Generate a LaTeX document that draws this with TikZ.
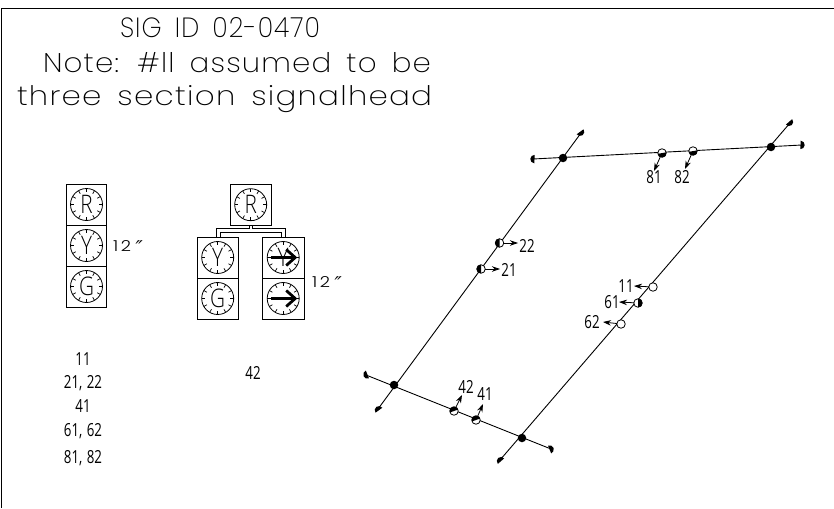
\documentclass[tikz,border=0pt]{standalone}
\usepackage{fontspec}
\setmainfont{Open Sans}
\newfontfamily\cadwide[LetterSpace=4,WordSpace=1.6]{Poppins ExtraLight}
\newfontfamily\cadsmall{Poppins Light}
\newfontfamily\primefont[FakeSlant=0.25]{DejaVu Sans}
\newfontfamily\facefont{Open Sans Light}
\newcommand{\num}[1]{\scalebox{0.74}[1.0]{\fontsize{18}{18}\selectfont #1}}
\newcommand{\inches}{\resizebox{18pt}{11pt}{\cadsmall 1\hspace{0.15em}2}\hspace{1.5pt}\raisebox{-3.5pt}{\primefont\fontsize{19}{19}\selectfont ″}}
\usetikzlibrary{arrows.meta,calc}
\tikzset{
  x=1pt,y=-1pt,
  frameline/.style={draw=black,line width=0.9pt},
  headbox/.style={draw=black,line width=0.9pt},
  facering/.style={circle,draw=black,line width=0.8pt,minimum size=32pt,inner sep=0pt,outer sep=0pt},
  tick/.style={line width=0.7pt},
  street/.style={draw=black,line width=0.9pt},
  junction/.style={circle,fill=black,minimum size=8.5pt,inner sep=0pt,outer sep=0pt},
  sighead/.style={circle,draw=black,fill=white,line width=0.8pt,minimum size=8.5pt,inner sep=0pt,outer sep=0pt},
  pointer/.style={draw=black,line width=0.8pt,-{Stealth[length=8pt,width=5.5pt]}},
  lbl/.style={inner sep=0pt,outer sep=0pt,anchor=base},
  chev/.style={line width=2.8pt,draw=black},
}
\newcommand{\face}[4]{%
  \node[facering] (#1) at (#2,#3) {};
  \foreach \a in {0,30,...,330}
    \draw[tick] ($(#2,#3)+(\a:16)$) -- ($(#2,#3)+(\a:12.5)$);
  \node[lbl,anchor=center] (#1t) at (#2,#3) {\scalebox{1.15}[1.42]{\facefont\fontsize{18}{18}\selectfont #4}};
}
\newcommand{\arrowface}[3]{%
  \draw[chev] (#2-12,#3) -- (#2+12,#3);
  \draw[chev,line join=miter] (#2+3,#3-8) -- (#2+12,#3) -- (#2+3,#3+8);
}
\newcommand{\capend}[3]{%
  \fill[rotate around={#3:(#1,#2)}] (#1-1.5,#2-4.2) arc[start angle=-90,end angle=90,x radius=4.2,y radius=4.2] -- cycle;
}
\newcommand{\halfhead}[3]{%
  \fill[rotate around={#3:(#1)}] ($(#1)+(0,-4.4)$) arc[start angle=-90,end angle=90,radius=4.4] -- cycle;
}
\begin{document}
\begin{tikzpicture}
\useasboundingbox (0,0) rectangle (834,508);
\draw[frameline] (1,508) -- (1,8) -- (834,8);
\node[lbl,anchor=base west] (title1) at (120,38) {\resizebox{200pt}{20pt}{\cadwide SIG ID 02-0470}};
\node[lbl,anchor=base west] (title2) at (43,73) {\resizebox{388pt}{20pt}{\cadwide Note: \#ll assumed to be}};
\node[lbl,anchor=base west] (title3) at (17,106) {\resizebox{415pt}{20pt}{\cadwide three section signalhead}};
% signal 1
\draw[headbox] (66,184) rectangle (106.5,225);
\draw[headbox] (66,225) rectangle (106.5,266);
\draw[headbox] (66,266) rectangle (106.5,307);
\face{sa}{86.5}{204.5}{R}
\face{sb}{86.5}{245.5}{Y}
\face{sc}{86.5}{286.5}{G}
\node[lbl,anchor=base west] (inch1) at (113,251) {\inches};
% signal 2
\draw[headbox] (230,184) rectangle (271.5,225.5);
\draw[headbox] (197,237) rectangle (238.5,278);
\draw[headbox] (197,278) rectangle (238.5,319);
\draw[headbox] (262.5,237) rectangle (304,278);
\draw[headbox] (262.5,278) rectangle (304,319);
\face{ra}{250.7}{204.7}{R}
\face{rb}{217.7}{257.5}{Y}
\face{rc}{217.7}{298.5}{G}
\face{rd}{283.2}{257.5}{Y}
\face{re}{283.2}{298.5}{}
\arrowface{rd}{283.2}{257.5}
\arrowface{re}{283.2}{298.5}
\draw[line width=0.8pt] (249,225.5) -- (249,228) -- (216,228) -- (216,237);
\draw[line width=0.8pt] (220,237) -- (220,232) -- (281.5,232) -- (281.5,237);
\draw[line width=0.8pt] (252.7,225.5) -- (252.7,228) -- (285.7,228) -- (285.7,237);
\node[lbl,anchor=base west] (inch2) at (312,287) {\inches};
% phase lists
\node[lbl] (l1) at (83,365) {\num{11}};
\node[lbl] (l2) at (83,388) {\num{21,\,\,22}};
\node[lbl] (l3) at (83,412) {\num{41}};
\node[lbl] (l4) at (83,436) {\num{61,\,\,62}};
\node[lbl] (l5) at (83,463) {\num{81,\,\,82}};
\node[lbl] (l6) at (253,379) {\num{42}};
% streets
\coordinate (la) at (581,133);
\coordinate (lb) at (378,409);
\coordinate (ra2) at (790,123);
\coordinate (rb2) at (500,460);
\coordinate (ta) at (533,159);
\coordinate (tb) at (802,145);
\coordinate (ba) at (366,375);
\coordinate (bb) at (551,449);
\draw[street] (la) -- (lb);
\draw[street] (ra2) -- (rb2);
\draw[street] (ta) -- (tb);
\draw[street] (ba) -- (bb);
\capend{581}{133}{-54}
\capend{378}{409}{126}
\capend{790}{123}{-49}
\capend{500}{460}{131}
\capend{533}{159}{177}
\capend{802}{145}{-3}
\capend{366}{375}{202}
\capend{551}{449}{22}
\node[junction] (j1) at (563,158) {};
\node[junction] (j2) at (771,147) {};
\node[junction] (j3) at (394,385) {};
\node[junction] (j4) at (522,438) {};
% signal heads
\node[sighead] (h81) at (662,153) {};
\node[sighead] (h82) at (693,151) {};
\node[sighead] (h22) at (499.5,243) {};
\node[sighead] (h21) at (481,269) {};
\node[sighead] (h11) at (653,287) {};
\node[sighead] (h61) at (638,303) {};
\node[sighead] (h62) at (621,324) {};
\node[sighead] (h42) at (454,411) {};
\node[sighead] (h41) at (476,420) {};
\halfhead{h81}{0}{-80}
\halfhead{h82}{0}{-80}
\halfhead{h22}{0}{180}
\halfhead{h21}{0}{180}
\halfhead{h61}{0}{0}
\halfhead{h42}{0}{110}
\halfhead{h41}{0}{110}
% pointers
\coordinate (p81) at (654,171);
\coordinate (p82) at (685,169);
\coordinate (p22) at (518,243);
\coordinate (p21) at (500,269);
\coordinate (p11) at (634,286);
\coordinate (p61) at (619,302);
\coordinate (p62) at (603,322);
\coordinate (p42) at (462,395);
\coordinate (p41) at (483,404);
\foreach \h in {81,82,22,21,11,61,62,42,41}
  \draw[pointer] (h\h) -- (p\h);
% pointer labels
\node[lbl] (t81) at (654,183) {\num{81}};
\node[lbl] (t82) at (682,183) {\num{82}};
\node[lbl] (t22) at (527,252) {\num{22}};
\node[lbl] (t21) at (509,276) {\num{21}};
\node[lbl] (t11) at (626,292.5) {\num{11}};
\node[lbl] (t61) at (612,308.5) {\num{61}};
\node[lbl] (t62) at (592,328.5) {\num{62}};
\node[lbl] (t42) at (466,393.5) {\num{42}};
\node[lbl] (t41) at (485,400.5) {\num{41}};
\end{tikzpicture}
\end{document}
